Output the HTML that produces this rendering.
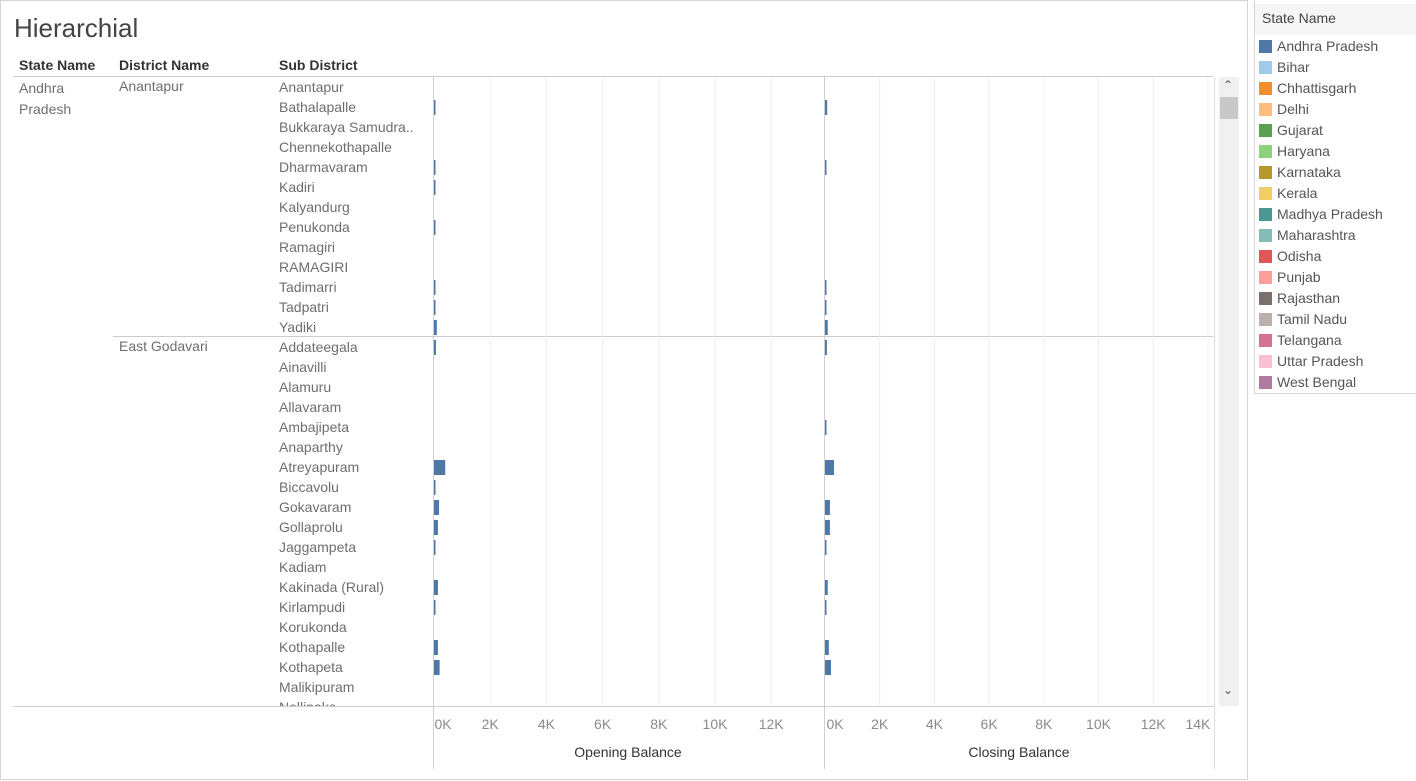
<!DOCTYPE html>
<html><head><meta charset="utf-8">
<style>
body{margin:0;width:1416px;height:781px;background:#fff;font-family:"Liberation Sans",sans-serif;position:relative;overflow:hidden}
.abs{position:absolute}
.lbl{position:absolute;font-size:14px;color:#6e6e6e;white-space:nowrap}
.hdr{position:absolute;font-size:14px;color:#333;font-weight:bold}
.leg{position:absolute;left:1277px;font-size:14px;color:#555}
.sw{position:absolute;left:1259px;width:13px;height:13px}
</style></head><body>
<div class="abs" style="left:0;top:0;width:1246px;height:778px;border:1px solid #d4d4d4"></div>
<div class="abs" style="left:14px;top:13px;font-size:26px;color:#444;font-weight:300">Hierarchial</div>
<div class="hdr" style="left:19px;top:57px">State Name</div>
<div class="hdr" style="left:119px;top:57px">District Name</div>
<div class="hdr" style="left:279px;top:57px">Sub District</div>
<div class="abs" style="left:13px;top:76px;width:1200px;height:1px;background:#ccc"></div>
<div class="lbl" style="left:19px;top:78px;line-height:21px">Andhra<br>Pradesh</div>
<div class="lbl" style="left:119px;top:78px">Anantapur</div>
<div class="lbl" style="left:119px;top:338px">East Godavari</div>
<div class="abs" style="left:113px;top:336px;width:1100px;height:1px;background:#ccc"></div>
<svg id="chart" class="abs" style="left:0;top:0" width="1416" height="781"></svg>
<div class="abs" style="left:1219px;top:77px;width:20px;height:629px;background:#f0f0f0"></div>
<div class="abs" style="left:1220px;top:97px;width:18px;height:22px;background:#c8c8c8"></div>
<div class="abs" style="left:1223px;top:78px;font-size:12px;color:#555">&#8963;</div>
<div class="abs" style="left:1223px;top:683px;font-size:12px;color:#555">&#8964;</div>
<div class="abs" style="left:1254px;top:0;width:161px;height:393px;border:1px solid #d4d4d4;border-top:none"></div>
<div class="abs" style="left:1255px;top:4px;width:161px;height:31px;background:#f6f6f6"></div>
<div class="abs" style="left:1262px;top:10px;font-size:14px;color:#444">State Name</div>
<div id="legend"></div>
<script>
const subDistricts=["Anantapur","Bathalapalle","Bukkaraya Samudra..","Chennekothapalle","Dharmavaram","Kadiri","Kalyandurg","Penukonda","Ramagiri","RAMAGIRI","Tadimarri","Tadpatri","Yadiki","Addateegala","Ainavilli","Alamuru","Allavaram","Ambajipeta","Anaparthy","Atreyapuram","Biccavolu","Gokavaram","Gollaprolu","Jaggampeta","Kadiam","Kakinada (Rural)","Kirlampudi","Korukonda","Kothapalle","Kothapeta","Malikipuram","Nellipaka"];
const openingBalance=[0,0.05,0,0,0.03,0.03,0,0.03,0,0,0.03,0.03,0.1,0.07,0,0,0,0,0,0.4,0.03,0.18,0.14,0.03,0,0.14,0.03,0,0.14,0.2,0,0];
const closingBalance=[0,0.08,0,0,0.03,0,0,0,0,0,0.03,0.03,0.1,0.07,0,0,0,0.03,0,0.33,0,0.18,0.18,0.03,0,0.1,0.03,0,0.14,0.22,0,0];
const openTicks=[0,2,4,6,8,10,12];
const closeTicks=[0,2,4,6,8,10,12,14];
const states=["Andhra Pradesh","Bihar","Chhattisgarh","Delhi","Gujarat","Haryana","Karnataka","Kerala","Madhya Pradesh","Maharashtra","Odisha","Punjab","Rajasthan","Tamil Nadu","Telangana","Uttar Pradesh","West Bengal"];
const stateColors=["#4e79a7","#a0cbe8","#f28e2b","#ffbe7d","#59a14f","#8cd17d","#b6992d","#f1ce63","#499894","#86bcb6","#e15759","#ff9d9a","#79706e","#bab0ac","#d37295","#fabfd2","#b07aa1"];
const NS="http://www.w3.org/2000/svg";
const svg=document.getElementById('chart');
const xOpen=v=>434+v*28.1, xClose=v=>825+v*27.35;
const rowY=i=>77+i*20;
function mk(t,a){const e=document.createElementNS(NS,t);for(const k in a)e.setAttribute(k,a[k]);svg.appendChild(e);return e;}
// gridlines
openTicks.forEach(t=>{if(t>0){const g=mk('line',{x1:xOpen(t),x2:xOpen(t),y1:77,y2:706,stroke:'#efefef'});}});
closeTicks.forEach(t=>{if(t>0){const g=mk('line',{x1:xClose(t),x2:xClose(t),y1:77,y2:706,stroke:'#efefef'});}});
[433.5,824.5].forEach(x=>{const l=mk('line',{x1:x,x2:x,y1:77,y2:769,stroke:'#cfcfcf'});});
const rl=mk('line',{x1:1214.5,x2:1214.5,y1:77,y2:769,stroke:'#dcdcdc'});


const bl=mk('line',{x1:13,x2:1214,y1:706.5,y2:706.5,stroke:'#cfcfcf'});


// rows
const clip=mk('clipPath',{id:'c'});const cr=document.createElementNS(NS,'rect');cr.setAttribute('x',0);cr.setAttribute('y',77);cr.setAttribute('width',1416);cr.setAttribute('height',629);clip.appendChild(cr);
const g=mk('g',{'clip-path':'url(#c)'});
subDistricts.forEach((s,i)=>{
  const t=document.createElementNS(NS,'text');t.setAttribute('x',279);t.setAttribute('y',rowY(i)+15);t.setAttribute('font-size','14');t.setAttribute('fill','#6e6e6e');t.textContent=s;
  
  
  g.appendChild(t);
  if(openingBalance[i]>0){const r=document.createElementNS(NS,'rect');r.setAttribute('x',xOpen(0));r.setAttribute('y',rowY(i)+3);r.setAttribute('width',Math.max(1.5,xOpen(openingBalance[i])-xOpen(0)));r.setAttribute('height',15);r.setAttribute('fill','#4e79a7');
    
    
    g.appendChild(r);}
  if(closingBalance[i]>0){const r=document.createElementNS(NS,'rect');r.setAttribute('x',xClose(0));r.setAttribute('y',rowY(i)+3);r.setAttribute('width',Math.max(1.5,xClose(closingBalance[i])-xClose(0)));r.setAttribute('height',15);r.setAttribute('fill','#4e79a7');
    
    
    g.appendChild(r);}
});
openTicks.forEach(t=>{const e=mk('text',{x:xOpen(t)+(t==0?9:0),y:729,'font-size':14,fill:'#8a8a8a','text-anchor':'middle'});e.textContent=t+'K';});
closeTicks.forEach(t=>{const e=mk('text',{x:xClose(t)+(t==0?10:(t==14?-10:0)),y:729,'font-size':14,fill:'#8a8a8a','text-anchor':'middle'});e.textContent=t+'K';});
const a1=mk('text',{x:628,y:757,'font-size':14,fill:'#333','text-anchor':'middle'});a1.textContent='Opening Balance';


const a2=mk('text',{x:1019,y:757,'font-size':14,fill:'#333','text-anchor':'middle'});a2.textContent='Closing Balance';


const leg=document.getElementById('legend');
states.forEach((s,i)=>{
  const sw=document.createElement('div');sw.className='sw';sw.style.top=(40+i*21)+'px';sw.style.background=stateColors[i];
  
  
  leg.appendChild(sw);
  const l=document.createElement('div');l.className='leg';l.style.top=(38+i*21)+'px';l.textContent=s;
  
  
  leg.appendChild(l);
});
</script>
</body></html>
